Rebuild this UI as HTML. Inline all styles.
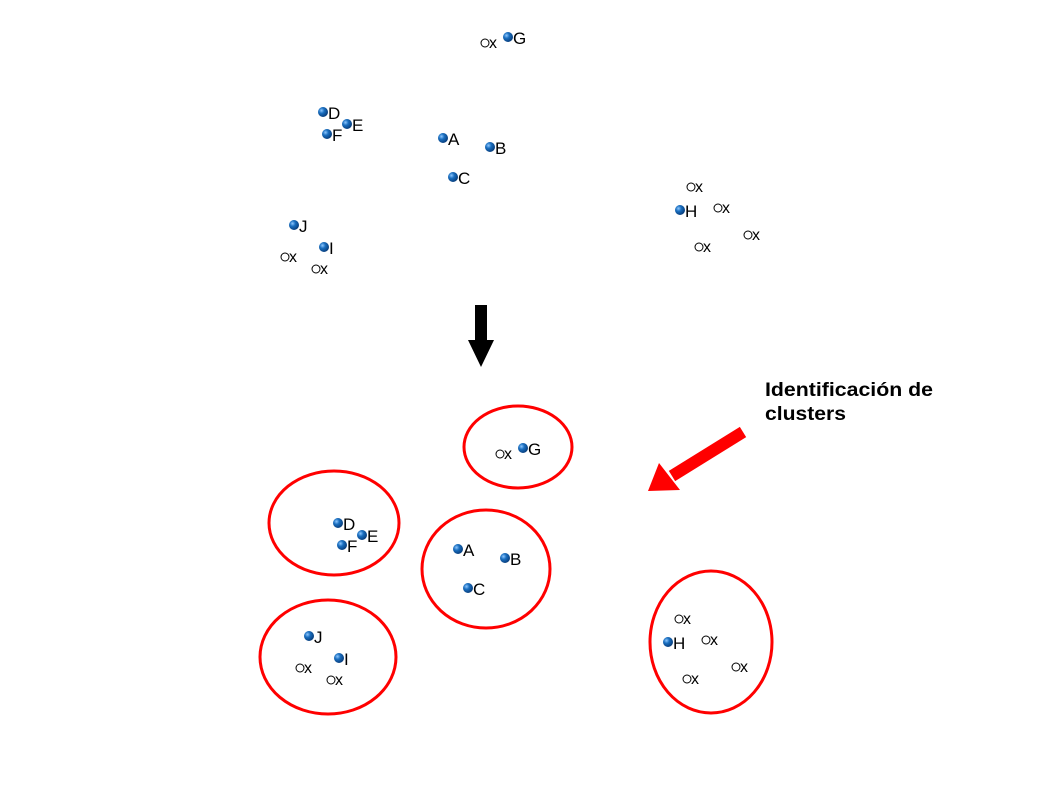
<!DOCTYPE html>
<html><head><meta charset="utf-8"><style>body{margin:0;background:#fff}svg{display:block}</style></head><body>
<svg width="1058" height="794" xmlns="http://www.w3.org/2000/svg" font-family="Liberation Sans, sans-serif">
<defs>
<radialGradient id="b" cx="0.35" cy="0.35" r="0.7"><stop offset="0" stop-color="#8fc8ff"/><stop offset="0.4" stop-color="#1a6fc0"/><stop offset="1" stop-color="#063a78"/></radialGradient>
<g id="ball"><circle r="5" fill="url(#b)"/></g>
<g id="ox"><circle r="4" fill="none" stroke="#000" stroke-width="1"/><text x="4" y="5" font-size="16">x</text></g>
</defs>
<g font-size="17">
<g id="top">
<use href="#ball" x="508" y="37"/><text x="513" y="44">G</text>
<use href="#ball" x="323" y="112"/><text x="328" y="119">D</text>
<use href="#ball" x="347" y="124"/><text x="352" y="131">E</text>
<use href="#ball" x="327" y="134"/><text x="332" y="141">F</text>
<use href="#ball" x="443" y="138"/><text x="448" y="145">A</text>
<use href="#ball" x="490" y="147"/><text x="495" y="154">B</text>
<use href="#ball" x="453" y="177"/><text x="458" y="184">C</text>
<use href="#ball" x="294" y="225"/><text x="299" y="232">J</text>
<use href="#ball" x="324" y="247"/><text x="329" y="254">I</text>
<use href="#ox" x="485" y="43"/><use href="#ox" x="285" y="257"/><use href="#ox" x="316" y="269"/>
</g>
<g id="hg">
<use href="#ball" x="680" y="210"/><text x="685" y="217">H</text>
<use href="#ox" x="691" y="187"/><use href="#ox" x="718" y="208"/><use href="#ox" x="699" y="247"/><use href="#ox" x="748" y="235"/>
</g>
<use href="#top" x="15" y="411"/>
<use href="#hg" x="-12" y="432"/>
</g>
<polygon points="475,305 487,305 487,340 494,340 481,367 468,340 475,340" fill="#000"/>
<g fill="none" stroke="#f00" stroke-width="3">
<ellipse cx="518" cy="447" rx="54" ry="41"/>
<ellipse cx="334" cy="523" rx="65" ry="52"/>
<ellipse cx="486" cy="569" rx="64" ry="59"/>
<ellipse cx="328" cy="657" rx="68" ry="57"/>
<ellipse cx="711" cy="642" rx="61" ry="71"/>
</g>
<line x1="743" y1="432" x2="672" y2="476" stroke="#f00" stroke-width="12"/>
<polygon points="648,491 659,463 680,490" fill="#f00"/>
<text x="765" y="396" font-size="19" font-weight="bold" textLength="168" lengthAdjust="spacingAndGlyphs">Identificación de</text>
<text x="765" y="420" font-size="19" font-weight="bold" textLength="81" lengthAdjust="spacingAndGlyphs">clusters</text>
</svg>
</body></html>
